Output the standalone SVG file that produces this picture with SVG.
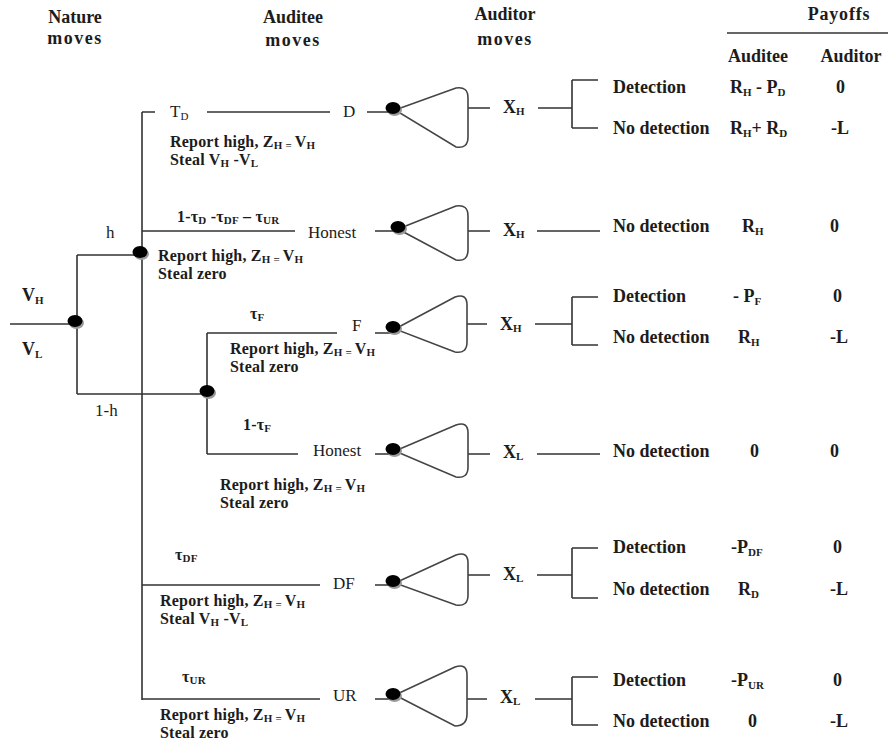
<svg xmlns="http://www.w3.org/2000/svg" width="891" height="743" viewBox="0 0 891 743">
<style>
text{font-family:"Liberation Serif","Times New Roman",serif;fill:#1c1c1c}
.hd{font-size:18px;font-weight:bold;text-anchor:middle}
.mv{letter-spacing:1.5px}
.b{font-size:18px;font-weight:bold}
.r{font-size:17px}
.s{font-size:16px;font-weight:bold;letter-spacing:0.2px}
.sb{font-size:11px}
.ln{stroke:#333;stroke-width:1.6;fill:none}
.fn{stroke:#444;stroke-width:1.6;fill:none}
</style>
<defs>
<g id="dot"><ellipse cx="1.5" cy="2" rx="7.5" ry="6" fill="#999"/><ellipse cx="0" cy="0" rx="7.5" ry="6" fill="#000"/></g>
</defs>
<g id="headers">
<text class="hd" x="75" y="23">Nature</text>
<text class="hd mv" x="75" y="44">moves</text>
<text class="hd" x="293" y="23">Auditee</text>
<text class="hd mv" x="293" y="46">moves</text>
<text class="hd" x="505" y="20">Auditor</text>
<text class="hd mv" x="505" y="45">moves</text>
<text class="hd" x="839" y="20" letter-spacing="0.8">Payoffs</text>
<line class="ln" x1="727" y1="33" x2="888" y2="33"/>
<text class="hd" x="758" y="62">Auditee</text>
<text class="hd" x="851" y="62">Auditor</text>
</g>
<g id="connectors">
<path class="ln" d="M10 324H75M77 255V394M77 255H140M77 394H207M142 112V700M142 112H155M207 112H330M367 112H393M142 231H295M375 231H398M207 333V454M207 333H337M375 333H393M207 454H298M375 454H395M142 585H320M375 585H393M142 699H320M375 699H393"/>
<path class="ln" d="M468 108H490M538 108H572M572 80V128M572 80H598M572 128H598"/>
<path class="ln" d="M468 231H490M537 231H600"/>
<path class="ln" d="M467 324H487M535 324H572M572 297V345M572 297H598M572 345H598"/>
<path class="ln" d="M468 454H490M537 454H600"/>
<path class="ln" d="M468 575H490M537 575H572M572 548V598M572 548H598M572 598H598"/>
<path class="ln" d="M467 699H487M535 699H572M572 677V725M572 677H598M572 725H598"/>
</g>
<g id="nature">
<use href="#dot" x="75" y="321"/>
<text class="b" x="22" y="301">V<tspan class="sb" dy="3">H</tspan></text>
<text class="b" x="22" y="355">V<tspan class="sb" dy="3">L</tspan></text>
<text class="r" x="106" y="238" font-size="15">h</text>
<text class="r" x="95" y="416" font-size="15">1-h</text>
</g>
<g id="auditee-high">
<use href="#dot" x="140" y="252"/>
</g>
<g id="auditee-low">
<use href="#dot" x="207" y="391"/>
</g>
<g id="branch-D">
<text class="r" x="170" y="117">T<tspan class="sb" dy="3">D</tspan></text>
<text class="r" x="343" y="117">D</text>
<text class="s" x="170" y="147">Report high, Z<tspan class="sb" dy="2">H = </tspan><tspan dy="-2">V</tspan><tspan class="sb" dy="2">H</tspan></text>
<text class="s" x="170" y="165">Steal V<tspan class="sb" dy="2">H</tspan><tspan dy="-2"> -V</tspan><tspan class="sb" dy="2">L</tspan></text>
</g>
<g id="branch-honest-h">
<text class="s" x="177" y="222">1-τ<tspan class="sb" dy="2">D</tspan><tspan dy="-2"> -τ</tspan><tspan class="sb" dy="2">DF</tspan><tspan dy="-2"> – τ</tspan><tspan class="sb" dy="2">UR</tspan></text>
<text class="r" x="308" y="238">Honest</text>
<text class="s" x="158" y="261">Report high, Z<tspan class="sb" dy="2">H = </tspan><tspan dy="-2">V</tspan><tspan class="sb" dy="2">H</tspan></text>
<text class="s" x="158" y="279">Steal zero</text>
</g>
<g id="branch-F">
<text class="s" x="250" y="319">τ<tspan class="sb" dy="2">F</tspan></text>
<text class="r" x="352" y="331">F</text>
<text class="s" x="230" y="354">Report high, Z<tspan class="sb" dy="2">H = </tspan><tspan dy="-2">V</tspan><tspan class="sb" dy="2">H</tspan></text>
<text class="s" x="230" y="372">Steal zero</text>
</g>
<g id="branch-honest-l">
<text class="s" x="243" y="430">1-τ<tspan class="sb" dy="2">F</tspan></text>
<text class="r" x="313" y="456">Honest</text>
<text class="s" x="220" y="490">Report high, Z<tspan class="sb" dy="2">H = </tspan><tspan dy="-2">V</tspan><tspan class="sb" dy="2">H</tspan></text>
<text class="s" x="220" y="508">Steal zero</text>
</g>
<g id="branch-DF">
<text class="s" x="175" y="560">τ<tspan class="sb" dy="2">DF</tspan></text>
<text class="r" x="333" y="589">DF</text>
<text class="s" x="160" y="606">Report high, Z<tspan class="sb" dy="2">H = </tspan><tspan dy="-2">V</tspan><tspan class="sb" dy="2">H</tspan></text>
<text class="s" x="160" y="624">Steal V<tspan class="sb" dy="2">H</tspan><tspan dy="-2"> -V</tspan><tspan class="sb" dy="2">L</tspan></text>
</g>
<g id="branch-UR">
<text class="s" x="182" y="682">τ<tspan class="sb" dy="2">UR</tspan></text>
<text class="r" x="333" y="701">UR</text>
<text class="s" x="160" y="720">Report high, Z<tspan class="sb" dy="2">H = </tspan><tspan dy="-2">V</tspan><tspan class="sb" dy="2">H</tspan></text>
<text class="s" x="160" y="738">Steal zero</text>
</g>
<g id="auditor-1">
<path class="fn" d="M395 110L456 88Q468 86 468 98V137Q468 149 456 147Z"/>
<use href="#dot" x="393" y="108"/>
<text class="b" x="503" y="113">X<tspan class="sb" dy="2">H</tspan></text>
<text class="b" x="613" y="93">Detection</text>
<text class="b" x="613" y="134">No detection</text>
<text class="b" x="730" y="93">R<tspan class="sb" dy="3">H</tspan><tspan dy="-3"> - P</tspan><tspan class="sb" dy="3">D</tspan></text>
<text class="b" x="836" y="93">0</text>
<text class="b" x="730" y="134">R<tspan class="sb" dy="3">H</tspan><tspan dy="-3">+ R</tspan><tspan class="sb" dy="3">D</tspan></text>
<text class="b" x="831" y="134">-L</text>
</g>
<g id="auditor-2">
<path class="fn" d="M398 229L456 206Q468 204 468 216V250Q468 262 456 260Z"/>
<use href="#dot" x="398" y="227"/>
<text class="b" x="503" y="236">X<tspan class="sb" dy="2">H</tspan></text>
<text class="b" x="613" y="232">No detection</text>
<text class="b" x="742" y="232">R<tspan class="sb" dy="3">H</tspan></text>
<text class="b" x="830" y="232">0</text>
</g>
<g id="auditor-3">
<path class="fn" d="M395 329L455 297Q467 293 467 305V342Q467 354 455 352Z"/>
<use href="#dot" x="393" y="327"/>
<text class="b" x="500" y="330">X<tspan class="sb" dy="2">H</tspan></text>
<text class="b" x="613" y="302">Detection</text>
<text class="b" x="613" y="343">No detection</text>
<text class="b" x="733" y="302">- P<tspan class="sb" dy="3">F</tspan></text>
<text class="b" x="833" y="302">0</text>
<text class="b" x="738" y="343">R<tspan class="sb" dy="3">H</tspan></text>
<text class="b" x="830" y="343">-L</text>
</g>
<g id="auditor-4">
<path class="fn" d="M395 451L456 425Q468 421 468 433V467Q468 479 456 477Z"/>
<use href="#dot" x="393" y="449"/>
<text class="b" x="503" y="458">X<tspan class="sb" dy="2">L</tspan></text>
<text class="b" x="613" y="457">No detection</text>
<text class="b" x="750" y="457">0</text>
<text class="b" x="830" y="457">0</text>
</g>
<g id="auditor-5">
<path class="fn" d="M395 583L456 555Q468 551 468 563V595Q468 607 456 605Z"/>
<use href="#dot" x="393" y="581"/>
<text class="b" x="503" y="580">X<tspan class="sb" dy="2">L</tspan></text>
<text class="b" x="613" y="553">Detection</text>
<text class="b" x="613" y="595">No detection</text>
<text class="b" x="731" y="553">-P<tspan class="sb" dy="3">DF</tspan></text>
<text class="b" x="833" y="553">0</text>
<text class="b" x="738" y="595">R<tspan class="sb" dy="3">D</tspan></text>
<text class="b" x="830" y="595">-L</text>
</g>
<g id="auditor-6">
<path class="fn" d="M395 695L455 667Q467 663 467 675V714Q467 726 455 726Z"/>
<use href="#dot" x="393" y="694"/>
<text class="b" x="500" y="703">X<tspan class="sb" dy="2">L</tspan></text>
<text class="b" x="613" y="686">Detection</text>
<text class="b" x="613" y="727">No detection</text>
<text class="b" x="731" y="686">-P<tspan class="sb" dy="3">UR</tspan></text>
<text class="b" x="833" y="686">0</text>
<text class="b" x="748" y="727">0</text>
<text class="b" x="830" y="727">-L</text>
</g>
</svg>
